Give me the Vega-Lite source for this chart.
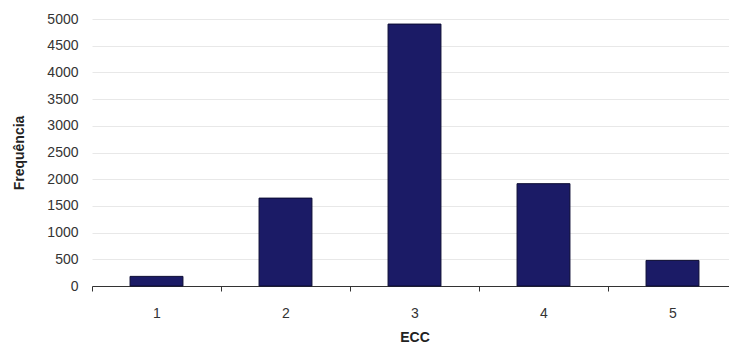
{
  "$schema": "https://vega.github.io/schema/vega-lite/v6.json",
  "autosize": {"type": "none"},
  "padding": {"left": 92, "top": 19, "right": 0, "bottom": 61},
  "width": 637,
  "height": 267,
  "background": "white",
  "data": {
    "values": [
      {"ECC": "1", "freq": 180},
      {"ECC": "2", "freq": 1646},
      {"ECC": "3", "freq": 4905},
      {"ECC": "4", "freq": 1916},
      {"ECC": "5", "freq": 479}
    ]
  },
  "mark": {
    "type": "bar",
    "width": {"band": 0.41},
    "color": "#1b1b66",
    "stroke": "#0b0b33",
    "strokeWidth": 1
  },
  "encoding": {
    "x": {
      "field": "ECC",
      "type": "ordinal",
      "scale": {"paddingInner": 0, "paddingOuter": 0, "range": [0, 645]},
      "axis": {
        "title": "ECC",
        "labelAngle": 0,
        "tickBand": "extent",
        "tickSize": 5,
        "tickColor": "#333333",
        "domainColor": "#333333",
        "labelPadding": 15,
        "titlePadding": 10,
        "labelFont": "Liberation Sans",
        "labelFontSize": 14,
        "labelColor": "#333333",
        "titleFont": "Liberation Sans",
        "titleFontSize": 14,
        "titleFontWeight": "bold",
        "titleColor": "#222222",
        "grid": false
      }
    },
    "y": {
      "field": "freq",
      "type": "quantitative",
      "scale": {"domain": [0, 5000]},
      "axis": {
        "title": "Frequência",
        "values": [0, 500, 1000, 1500, 2000, 2500, 3000, 3500, 4000, 4500, 5000],
        "format": "d",
        "domain": false,
        "ticks": false,
        "labelPadding": 14,
        "titlePadding": 20,
        "labelFont": "Liberation Sans",
        "labelFontSize": 14,
        "labelColor": "#333333",
        "titleFont": "Liberation Sans",
        "titleFontSize": 14,
        "titleFontWeight": "bold",
        "titleColor": "#222222",
        "grid": true,
        "gridColor": "#e8e8e8",
        "gridWidth": 1
      }
    }
  },
  "config": {"view": {"stroke": null}}
}
